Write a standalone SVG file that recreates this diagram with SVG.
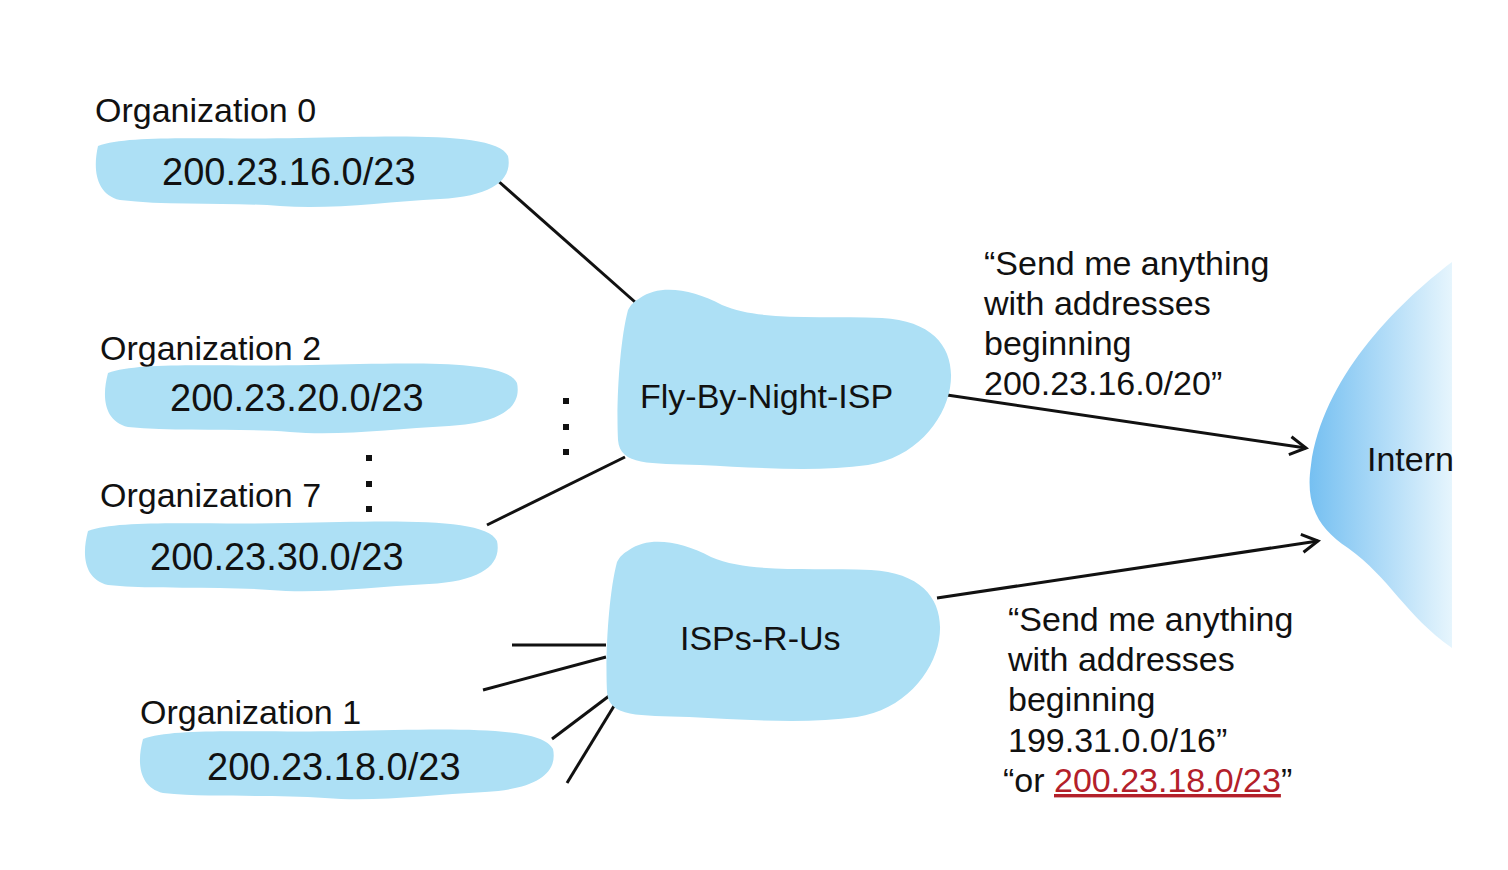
<svg xmlns="http://www.w3.org/2000/svg" width="1508" height="870" viewBox="0 0 1508 870">
<style>
.t{font-family:"Liberation Sans",Arial,sans-serif;font-size:34px;fill:#111}
.ip{font-size:38px}
.blob{fill:#ade0f5}
.ln{stroke:#111;stroke-width:3;fill:none}
.dot{fill:#111}
</style>
<defs>
<linearGradient id="inet" x1="1308" y1="0" x2="1452" y2="0" gradientUnits="userSpaceOnUse">
<stop offset="0" stop-color="#74bff1"/>
<stop offset="1" stop-color="#e6f5fd"/>
</linearGradient>
<marker id="arr" markerWidth="24" markerHeight="24" refX="20" refY="12" orient="auto" markerUnits="userSpaceOnUse">
<path d="M4,3 L20,12 L4,21" fill="none" stroke="#111" stroke-width="3"/>
</marker>
</defs>
<rect width="1508" height="870" fill="#fff"/>

<g id="connectors">
<line class="ln" x1="497" y1="180" x2="635" y2="302"/>
<line class="ln" x1="487" y1="525" x2="625" y2="457"/>
<line class="ln" x1="947" y1="395" x2="1306" y2="448" marker-end="url(#arr)"/>
<line class="ln" x1="937" y1="598" x2="1318" y2="541" marker-end="url(#arr)"/>
<line class="ln" x1="512" y1="645" x2="606" y2="645"/>
<line class="ln" x1="483" y1="690" x2="606" y2="657"/>
<line class="ln" x1="552" y1="739" x2="613" y2="693"/>
<line class="ln" x1="567" y1="783" x2="614" y2="706"/>
</g>

<g id="internet">
<path d="M1452,262 C1395,305 1322,380 1311,465 C1305,505 1318,528 1348,548 C1390,578 1405,615 1452,648 Z" fill="url(#inet)"/>
<text class="t" x="1367" y="471">Intern</text>
</g>

<g id="org0">
<text class="t" x="95" y="122">Organization 0</text>
<path class="blob" d="M98,146 C130,134 210,140 300,138 C400,136 497,132 508,156 C513,180 492,196 440,199 C385,202 330,210 280,206 C230,202 170,206 120,200 C95,194 93,168 98,146 Z"/>
<text class="t ip" x="162" y="185">200.23.16.0/23</text>
</g>

<g id="org2">
<text class="t" x="100" y="360">Organization 2</text>
<path class="blob" d="M108,373 C140,361 220,367 310,365 C410,363 506,359 517,383 C522,407 501,423 449,426 C394,429 340,436 290,432 C240,428 180,432 128,427 C103,421 102,395 108,373 Z"/>
<text class="t ip" x="170" y="411">200.23.20.0/23</text>
</g>

<g id="org7">
<text class="t" x="100" y="507">Organization 7</text>
<path class="blob" d="M88,531 C120,519 200,525 290,523 C390,521 486,517 497,541 C502,565 481,581 429,584 C374,587 320,594 270,590 C220,586 160,590 108,585 C83,579 82,553 88,531 Z"/>
<text class="t ip" x="150" y="570">200.23.30.0/23</text>
</g>

<g id="org1">
<text class="t" x="140" y="724">Organization 1</text>
<path class="blob" d="M143,739 C175,727 255,733 345,731 C445,729 542,725 553,749 C558,773 537,789 485,792 C430,795 375,802 325,798 C275,794 215,798 163,793 C138,787 137,761 143,739 Z"/>
<text class="t ip" x="207" y="780">200.23.18.0/23</text>
</g>

<g id="flybynight">
<path class="blob" d="M640,298 C660,284 692,289 722,305 C762,322 822,315 882,318 C937,321 956,352 950,388 C944,422 914,458 868,465 C818,472 760,468 700,465 C650,463 620,466 618,440 C616,400 620,340 628,310 C631,304 635,301 640,298 Z"/>
<text class="t" x="640" y="408">Fly-By-Night-ISP</text>
</g>

<g id="ispsrus">
<path class="blob" d="M629,550 C649,536 681,541 711,557 C751,574 811,567 871,570 C926,573 945,604 939,640 C933,674 903,710 857,717 C807,724 749,720 689,717 C639,715 609,718 607,692 C605,652 609,592 617,562 C620,556 624,553 629,550 Z"/>
<text class="t" x="680" y="650">ISPs-R-Us</text>
</g>

<g id="dots">
<rect class="dot" x="563" y="398" width="6" height="6"/>
<rect class="dot" x="563" y="424" width="6" height="6"/>
<rect class="dot" x="563" y="449" width="6" height="6"/>
<rect class="dot" x="366" y="455" width="6" height="6"/>
<rect class="dot" x="366" y="481" width="6" height="6"/>
<rect class="dot" x="366" y="506" width="6" height="6"/>
</g>

<g id="msg-flybynight">
<text class="t" x="984" y="275">“Send me anything</text>
<text class="t" x="984" y="315">with addresses</text>
<text class="t" x="984" y="355">beginning</text>
<text class="t" x="984" y="395">200.23.16.0/20”</text>
</g>

<g id="msg-ispsrus">
<text class="t" x="1008" y="631">“Send me anything</text>
<text class="t" x="1008" y="671">with addresses</text>
<text class="t" x="1008" y="711">beginning</text>
<text class="t" x="1008" y="752">199.31.0.0/16”</text>
<text class="t" x="1003" y="792">“or <tspan fill="#b3202a" text-decoration="underline">200.23.18.0/23</tspan>”</text>
</g>
</svg>
